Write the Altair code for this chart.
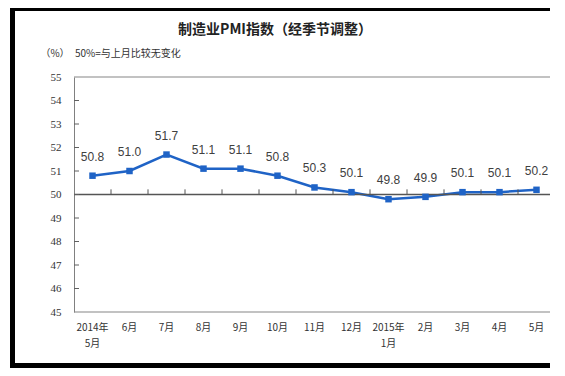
import altair as alt
import pandas as pd

months = ["2014年\n5月", "6月", "7月", "8月", "9月", "10月", "11月", "12月",
          "2015年\n1月", "2月", "3月", "4月", "5月"]
values = [50.8, 51.0, 51.7, 51.1, 51.1, 50.8, 50.3, 50.1, 49.8, 49.9, 50.1, 50.1, 50.2]
y_ticks = [45, 46, 47, 48, 49, 50, 51, 52, 53, 54, 55]

W, H = 481, 235

df = pd.DataFrame({"i": list(range(len(months))), "m": months, "v": values,
                   "lab": [f"{v:.1f}" for v in values]})
bnd = pd.DataFrame({"b": [k + 0.5 for k in range(len(months) - 1)],
                    "y0": [50] * (len(months) - 1), "y1": [50.22] * (len(months) - 1)})
yt = pd.DataFrame({"t": y_ticks[1:-1]})

xs = alt.Scale(domain=[-0.5, len(months) - 0.5], nice=False, zero=False)
ys = alt.Scale(domain=[45, 55], nice=False, zero=False)

yaxis = alt.Axis(values=y_ticks, ticks=False, grid=False, domain=True,
                 domainColor="#808080", domainWidth=1, labelFont="Liberation Serif",
                 labelFontSize=11, labelColor="#333333", labelPadding=13, title=None,
                 labelOverlap=False, labelFlush=False, format="d")

X = alt.X("i:Q", scale=xs, axis=None)
Y = alt.Y("v:Q", scale=ys, axis=yaxis)

blue = "#1f63c6"

line = alt.Chart(df).mark_line(color=blue, strokeWidth=2.5).encode(x=X, y=Y)
pts = alt.Chart(df).mark_point(shape="square", filled=True, size=42, color=blue, opacity=1).encode(
    x=X, y=Y)
labels = alt.Chart(df).mark_text(font="Liberation Sans", fontSize=12, color="#404040", dy=-19).encode(
    x=X, y=Y, text="lab:N")

xlab = alt.Chart(df).mark_text(font="Noto Sans CJK SC", fontSize=10, color="#333333",
                               lineBreak="\n", lineHeight=16, baseline="top").encode(
    x=X, y=alt.value(246), text="m:N")

hl = pd.DataFrame({"v": [55, 45]})
frame_lines = alt.Chart(hl).mark_rule(color="#858585", strokeWidth=1).encode(
    y=Y, x=alt.value(0), x2=alt.value(476))
base_line = alt.Chart(pd.DataFrame({"v": [50]})).mark_rule(color="#555555", strokeWidth=1.3).encode(
    y=Y, x=alt.value(0), x2=alt.value(476))

bticks = alt.Chart(bnd).mark_rule(color="#555555", strokeWidth=1).encode(
    x=alt.X("b:Q", scale=xs, axis=None), y=alt.Y("y0:Q", scale=ys, axis=yaxis), y2="y1:Q")
yticks = alt.Chart(yt).mark_rule(color="#606060", strokeWidth=1).encode(
    y=alt.Y("t:Q", scale=ys, axis=yaxis), x=alt.value(0), x2=alt.value(5))

title = alt.Chart(pd.DataFrame({"t": ["制造业PMI指数（经季节调整）"]})).mark_text(
    font="Noto Sans CJK SC", fontSize=14, fontWeight="bold", color="#222222", baseline="middle").encode(
    x=alt.value(201), y=alt.value(-47), text="t:N")
unit = alt.Chart(pd.DataFrame({"t": ["（%）"]})).mark_text(
    font="Noto Sans CJK SC", fontSize=10, color="#333333", baseline="middle").encode(
    x=alt.value(-19), y=alt.value(-23), text="t:N")
note = alt.Chart(pd.DataFrame({"t": ["50%=与上月比较无变化"]})).mark_text(
    font="Noto Sans CJK SC", fontSize=10, color="#333333", baseline="middle", align="left").encode(
    x=alt.value(1), y=alt.value(-23), text="t:N")

frame_l = alt.Chart(pd.DataFrame({"a": [0]})).mark_rect(color="#000000").encode(
    x=alt.value(-64), x2=alt.value(-59), y=alt.value(-70), y2=alt.value(292))
frame_t = alt.Chart(pd.DataFrame({"a": [0]})).mark_rect(color="#000000").encode(
    x=alt.value(-64), x2=alt.value(476), y=alt.value(-70), y2=alt.value(-66))
frame_b = alt.Chart(pd.DataFrame({"a": [0]})).mark_rect(color="#000000").encode(
    x=alt.value(-64), x2=alt.value(476), y=alt.value(286), y2=alt.value(292))

chart = alt.layer(
    line, frame_lines, base_line, bticks, yticks, pts, labels, xlab,
    title, unit, note, frame_l, frame_t, frame_b
).properties(
    width=W, height=H,
    autosize=alt.AutoSizeParams(type="none"),
    padding={"left": 66, "top": 69, "right": 2, "bottom": 56},
    background="white",
).configure_view(stroke=None).configure_axis(labelOverlap=False)

chart.save("out.html", embed_options={"renderer": "svg", "actions": False})
